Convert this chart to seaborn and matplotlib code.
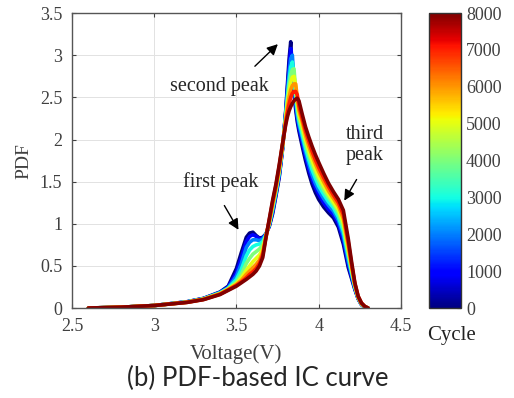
import matplotlib
matplotlib.use("Agg")
import matplotlib as mpl
import matplotlib.pyplot as plt
import pandas as pd
import seaborn as sns

# PDF-based incremental capacity curves, one per ageing cycle

voltage = [2.60, 2.80, 3.00, 3.20, 3.30, 3.40, 3.45, 3.50, 3.53, 3.56, 3.58, 3.60,
           3.62, 3.64, 3.66, 3.68, 3.70, 3.72, 3.74, 3.76, 3.78, 3.80, 3.81, 3.82,
           3.83, 3.84, 3.85, 3.86, 3.87, 3.88, 3.90, 3.92, 3.94, 3.96, 3.98, 4.00,
           4.03, 4.06, 4.09, 4.12, 4.15, 4.18, 4.20, 4.22, 4.24, 4.26, 4.28, 4.30]

cycles = [0, 1000, 2000, 3000, 4000, 5000, 6000, 7000, 8000]

pdf_c0 = [0.00, 0.01, 0.03, 0.075, 0.115, 0.19, 0.26, 0.47, 0.66, 0.84, 0.89, 0.90,
          0.86, 0.83, 0.84, 0.88, 0.97, 1.12, 1.33, 1.55, 1.88, 2.35, 2.65, 2.95,
          3.16, 2.80, 2.55, 2.36, 2.21, 2.10, 1.92, 1.75, 1.60, 1.47, 1.37, 1.29,
          1.20, 1.13, 1.07, 0.96, 0.76, 0.48, 0.35, 0.22, 0.11, 0.04, 0.01, 0.00]
pdf_c1 = [0.00, 0.01, 0.03, 0.074, 0.113, 0.186, 0.25, 0.42, 0.60, 0.79, 0.85, 0.87,
          0.85, 0.82, 0.83, 0.88, 0.98, 1.14, 1.35, 1.57, 1.89, 2.33, 2.60, 2.86,
          3.08, 2.90, 2.62, 2.41, 2.25, 2.14, 1.97, 1.80, 1.65, 1.53, 1.43, 1.35,
          1.25, 1.17, 1.11, 1.00, 0.81, 0.52, 0.37, 0.23, 0.11, 0.04, 0.01, 0.00]
pdf_c2 = [0.00, 0.01, 0.03, 0.073, 0.111, 0.183, 0.24, 0.38, 0.53, 0.72, 0.78, 0.81,
          0.81, 0.80, 0.82, 0.88, 0.99, 1.16, 1.37, 1.59, 1.90, 2.31, 2.55, 2.78,
          2.96, 3.00, 2.70, 2.46, 2.29, 2.18, 2.02, 1.85, 1.71, 1.58, 1.48, 1.40,
          1.30, 1.22, 1.15, 1.04, 0.86, 0.56, 0.40, 0.24, 0.12, 0.045, 0.01, 0.00]
pdf_c3 = [0.00, 0.01, 0.03, 0.072, 0.109, 0.179, 0.235, 0.34, 0.46, 0.62, 0.69, 0.73,
          0.75, 0.76, 0.79, 0.87, 1.00, 1.18, 1.38, 1.61, 1.91, 2.29, 2.50, 2.70,
          2.86, 2.92, 2.76, 2.52, 2.34, 2.22, 2.06, 1.90, 1.76, 1.64, 1.54, 1.45,
          1.35, 1.26, 1.19, 1.08, 0.91, 0.61, 0.42, 0.25, 0.12, 0.05, 0.015, 0.00]
pdf_c4 = [0.00, 0.01, 0.03, 0.071, 0.108, 0.175, 0.23, 0.31, 0.40, 0.53, 0.59, 0.64,
          0.67, 0.70, 0.75, 0.87, 1.01, 1.20, 1.40, 1.63, 1.92, 2.27, 2.46, 2.63,
          2.76, 2.83, 2.84, 2.58, 2.39, 2.26, 2.11, 1.95, 1.82, 1.70, 1.60, 1.51,
          1.40, 1.31, 1.23, 1.13, 0.96, 0.65, 0.45, 0.26, 0.12, 0.05, 0.015, 0.00]
pdf_c5 = [0.00, 0.01, 0.03, 0.070, 0.106, 0.171, 0.225, 0.29, 0.36, 0.45, 0.50, 0.55,
          0.59, 0.63, 0.70, 0.86, 1.02, 1.22, 1.42, 1.64, 1.92, 2.25, 2.42, 2.57,
          2.68, 2.74, 2.75, 2.64, 2.44, 2.30, 2.16, 2.00, 1.87, 1.75, 1.65, 1.56,
          1.45, 1.35, 1.26, 1.17, 1.01, 0.69, 0.47, 0.27, 0.13, 0.05, 0.015, 0.00]
pdf_c6 = [0.00, 0.01, 0.03, 0.069, 0.104, 0.168, 0.22, 0.28, 0.33, 0.40, 0.44, 0.48,
          0.52, 0.57, 0.66, 0.85, 1.03, 1.24, 1.43, 1.66, 1.93, 2.23, 2.37, 2.50,
          2.59, 2.64, 2.66, 2.66, 2.50, 2.35, 2.21, 2.05, 1.92, 1.81, 1.71, 1.62,
          1.50, 1.39, 1.30, 1.21, 1.06, 0.74, 0.50, 0.28, 0.13, 0.055, 0.02, 0.00]
pdf_c7 = [0.00, 0.01, 0.03, 0.068, 0.102, 0.164, 0.215, 0.27, 0.31, 0.36, 0.40, 0.43,
          0.47, 0.53, 0.63, 0.85, 1.05, 1.26, 1.45, 1.68, 1.94, 2.20, 2.32, 2.42,
          2.50, 2.55, 2.57, 2.57, 2.53, 2.40, 2.25, 2.10, 1.98, 1.86, 1.76, 1.67,
          1.55, 1.44, 1.34, 1.25, 1.11, 0.78, 0.52, 0.29, 0.14, 0.06, 0.02, 0.00]
pdf_c8 = [0.00, 0.01, 0.03, 0.067, 0.100, 0.160, 0.21, 0.26, 0.30, 0.34, 0.37, 0.40,
          0.44, 0.50, 0.60, 0.84, 1.06, 1.28, 1.47, 1.70, 1.95, 2.18, 2.27, 2.34,
          2.39, 2.43, 2.46, 2.48, 2.49, 2.46, 2.30, 2.15, 2.03, 1.92, 1.82, 1.73,
          1.60, 1.48, 1.38, 1.29, 1.16, 0.82, 0.55, 0.30, 0.14, 0.06, 0.02, 0.00]

curves = [pdf_c0, pdf_c1, pdf_c2, pdf_c3, pdf_c4, pdf_c5, pdf_c6, pdf_c7, pdf_c8]

cbar_ticks = [0, 1000, 2000, 3000, 4000, 5000, 6000, 7000, 8000]


def build_frame():
    rows = []
    for cyc, vals in zip(cycles, curves):
        for v, p in zip(voltage, vals):
            rows.append((v, p, cyc))
    return pd.DataFrame(rows, columns=['Voltage', 'PDF', 'Cycle'])


def main():
    sns.set_style('ticks')
    plt.rcParams['font.family'] = ['Liberation Serif', 'DejaVu Serif']
    df = build_frame()
    jet = mpl.colormaps['jet']

    fig = plt.figure(figsize=(5.14, 3.98), dpi=100)
    ax = fig.add_axes([0.140, 0.226, 0.640, 0.741])
    cax = fig.add_axes([0.835, 0.226, 0.062, 0.741])

    sns.lineplot(data=df, x='Voltage', y='PDF', hue='Cycle', palette=jet,
                 hue_norm=(0, 8000), estimator=None, lw=2.6, legend=False, ax=ax)

    tick_color = '#404040'
    ax.set_xlim(2.5, 4.5)
    ax.set_ylim(0, 3.5)
    ax.set_xticks([2.5, 3, 3.5, 4, 4.5])
    ax.set_xticklabels(['2.5', '3', '3.5', '4', '4.5'])
    ax.set_yticks([0, 0.5, 1, 1.5, 2, 2.5, 3, 3.5])
    ax.set_yticklabels(['0', '0.5', '1', '1.5', '2', '2.5', '3', '3.5'])
    ax.grid(True, color='#e2e2e2', lw=0.7)
    ax.set_axisbelow(True)
    ax.tick_params(direction='in', length=3, top=True, right=True,
                   labelsize=13, colors=tick_color, pad=7)
    for sp in ax.spines.values():
        sp.set_visible(True)
        sp.set_color('#555555')
        sp.set_linewidth(1.0)
    ax.set_xlabel('Voltage(V)', fontsize=15, color=tick_color, labelpad=7)
    ax.set_ylabel('PDF', fontsize=14, color=tick_color, labelpad=5)

    arrow = dict(arrowstyle='-|>', color='k', lw=1.0, mutation_scale=16)
    ax.text(3.394, 2.63, 'second peak', fontsize=14.5, ha='center', va='center')
    ax.annotate('', xy=(3.764, 3.155), xytext=(3.60, 2.847), arrowprops=arrow)
    ax.text(3.406, 1.50, 'first peak', fontsize=14.5, ha='center', va='center')
    ax.annotate('', xy=(3.521, 0.90), xytext=(3.418, 1.245), arrowprops=arrow)
    ax.text(4.281, 1.93, 'third\npeak', fontsize=14.5, ha='center', va='center',
            linespacing=1.15)
    ax.annotate('', xy=(4.147, 1.246), xytext=(4.239, 1.554), arrowprops=arrow)

    sm = mpl.cm.ScalarMappable(norm=mpl.colors.Normalize(0, 8000), cmap=jet)
    cb = fig.colorbar(sm, cax=cax, ticks=cbar_ticks)
    cb.ax.tick_params(direction='in', length=3, labelsize=13, colors=tick_color)
    cb.outline.set_edgecolor('#333333')
    cb.outline.set_linewidth(1.0)
    fig.text(0.878, 0.158, 'Cycle', fontsize=15, ha='center', va='center',
             color='#222222')

    fig.text(0.502, 0.05, '(b) PDF-based IC curve', fontsize=18.5, ha='center',
             va='center', family=['Lato', 'DejaVu Sans'])

    fig.savefig('out.png', dpi=100)


if __name__ == "__main__":
    main()
